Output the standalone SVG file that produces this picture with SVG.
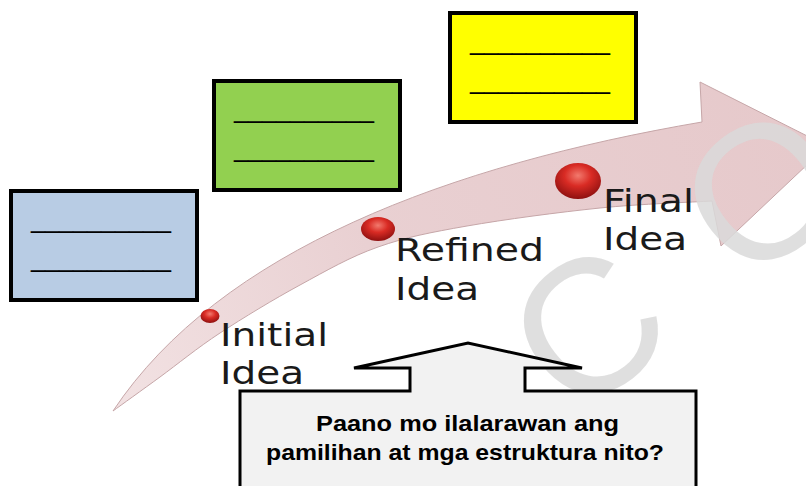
<svg xmlns="http://www.w3.org/2000/svg" width="806" height="486" viewBox="0 0 806 486">
<defs>
<style>
.box{stroke:#000;stroke-width:4}
.blank{font-family:"Liberation Sans",Arial,sans-serif;font-size:25px;fill:#000}
.lbl{font-family:"DejaVu Sans","Open Sans",sans-serif;font-size:32px;fill:#1a1a1a}
.q{font-family:"Liberation Sans",Arial,sans-serif;font-size:22px;font-weight:bold;fill:#000}
.wm{font-family:"Liberation Sans",Arial,sans-serif;font-size:190px;letter-spacing:80px;fill:#d9d9d9;fill-opacity:0.85}
</style>
<linearGradient id="arrowFill" x1="113" y1="411" x2="806" y2="150" gradientUnits="userSpaceOnUse">
<stop offset="0" stop-color="#f2e2e3"/>
<stop offset="0.4" stop-color="#e9d0d2"/>
<stop offset="1" stop-color="#e6c9cb"/>
</linearGradient>
<radialGradient id="ball" cx="0.5" cy="0.35" r="0.65">
<stop offset="0" stop-color="#f27a6e"/>
<stop offset="0.45" stop-color="#d92b24"/>
<stop offset="1" stop-color="#8e1010"/>
</radialGradient>
</defs>
<rect width="806" height="486" fill="#fff"/>

<g id="connectors">
<path id="curved-arrow" d="M113,411 C220,250 450,165 702,122 L700,82 L827,146 L721,246 L712,201 C693.3,202.2 640.8,203.8 600,208 C559.2,212.2 504,219.5 467,226 C430,232.5 405.8,237.2 378,247 C350.2,256.8 326.3,270.7 300,285 C273.7,299.3 243.3,317.7 220,333 C196.7,348.3 177.8,364 160,377 C142.2,390 120.8,405.3 113,411 Z" fill="url(#arrowFill)" stroke="#c6a6a8" stroke-width="1"/>
</g>

<g id="watermark" transform="translate(574,422) rotate(-38)">
<text class="wm" x="0" y="0">COPY</text>
</g>

<g id="box-initial">
<rect class="box" x="11" y="191" width="186" height="109" fill="#b8cce4"/>
<text class="blank" x="31" y="228" textLength="140" lengthAdjust="spacingAndGlyphs">__________</text>
<text class="blank" x="31" y="267" textLength="140" lengthAdjust="spacingAndGlyphs">__________</text>
</g>
<g id="box-refined">
<rect class="box" x="214" y="81" width="186" height="109" fill="#92d050"/>
<text class="blank" x="234" y="118" textLength="140" lengthAdjust="spacingAndGlyphs">__________</text>
<text class="blank" x="234" y="157" textLength="140" lengthAdjust="spacingAndGlyphs">__________</text>
</g>
<g id="box-final">
<rect class="box" x="450" y="13" width="186" height="109" fill="#ffff00"/>
<text class="blank" x="470" y="50" textLength="140" lengthAdjust="spacingAndGlyphs">__________</text>
<text class="blank" x="470" y="89" textLength="140" lengthAdjust="spacingAndGlyphs">__________</text>
</g>

<g id="initial-idea">
<ellipse cx="210" cy="316" rx="9.5" ry="7" fill="url(#ball)"/>
<text class="lbl" x="220" y="346" textLength="108" lengthAdjust="spacingAndGlyphs">Initial</text>
<text class="lbl" x="220" y="384" textLength="84" lengthAdjust="spacingAndGlyphs">Idea</text>
</g>
<g id="refined-idea">
<ellipse cx="378" cy="229" rx="17" ry="12" fill="url(#ball)"/>
<text class="lbl" x="395" y="261" textLength="149" lengthAdjust="spacingAndGlyphs">Refined</text>
<text class="lbl" x="395" y="300" textLength="84" lengthAdjust="spacingAndGlyphs">Idea</text>
</g>
<g id="final-idea">
<ellipse cx="578" cy="181" rx="23" ry="18" fill="url(#ball)"/>
<text class="lbl" x="603" y="212" textLength="91" lengthAdjust="spacingAndGlyphs">Final</text>
<text class="lbl" x="603" y="250" textLength="84" lengthAdjust="spacingAndGlyphs">Idea</text>
</g>

<g id="question-callout">
<path d="M354,368 L468,343 L582,368 L525,368 L525,391 L696,391 L696,492 L240,492 L240,391 L410,391 L410,368 Z" fill="#f2f2f2" stroke="#000" stroke-width="3" stroke-linejoin="miter"/>
<text class="q" x="316" y="431" textLength="303" lengthAdjust="spacingAndGlyphs">Paano mo ilalarawan ang</text>
<text class="q" x="266" y="460" textLength="398" lengthAdjust="spacingAndGlyphs">pamilihan at mga estruktura nito?</text>
</g>
</svg>
